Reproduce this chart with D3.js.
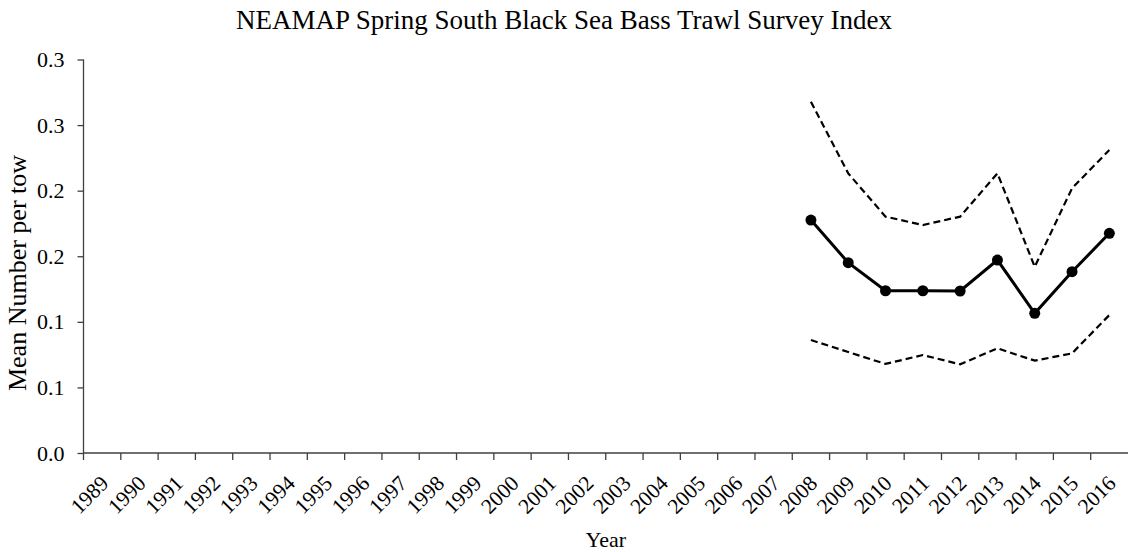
<!DOCTYPE html>
<html lang="en">
<head>
    <meta charset="UTF-8">
    <title>NEAMAP Spring South Black Sea Bass</title>
    <style>
        body { margin: 0; background: #fff; }
        svg { display: block; }
    </style>
</head>
<body>
<script src="https://d3js.org/d3.v7.min.js"></script>
<script>
    const years = d3.range(1989, 2017).map(String);
    const surveyYears = ["2008", "2009", "2010", "2011", "2012", "2013", "2014", "2015", "2016"];
    const meanIndex = [0.1776, 0.1451, 0.1237, 0.1237, 0.1235, 0.1471, 0.1065, 0.1382, 0.1675];
    const upperCI = [0.2678, 0.2132, 0.1802, 0.1738, 0.1802, 0.2132, 0.1420, 0.2018, 0.2310];
    const lowerCI = [0.0861, 0.0770, 0.0679, 0.0747, 0.0676, 0.0798, 0.0704, 0.0760, 0.1052];
    const yTicks = [0, 0.05, 0.1, 0.15, 0.2, 0.25, 0.3];
    const yTickLabels = ["0.0", "0.1", "0.1", "0.2", "0.2", "0.3", "0.3"];

    const width = 1128;
    const height = 552;
    const plotLeft = 83.5, plotRight = 1128, plotTop = 59.5, plotBottom = 453;
    const font = "'Liberation Serif', 'Times New Roman', serif";
    const axisColor = "#404040";

    const svg = d3.select("body")
        .append("svg")
        .attr("width", width)
        .attr("height", height);

    const x = d3.scaleBand()
        .domain(years)
        .range([plotLeft, plotRight]);

    const y = d3.scaleLinear()
        .domain([0, 0.3])
        .range([plotBottom, plotTop]);

    // title
    svg.append("text")
        .attr("x", 564)
        .attr("y", 29)
        .attr("text-anchor", "middle")
        .style("font-family", font)
        .style("font-size", "27px")
        .text("NEAMAP Spring South Black Sea Bass Trawl Survey Index");

    // y axis
    const yAxis = svg.append("g")
        .attr("transform", `translate(${plotLeft},0)`)
        .call(d3.axisLeft(y)
            .tickValues(yTicks)
            .tickSize(6)
            .tickPadding(13)
            .tickFormat((d, i) => yTickLabels[i]));
    yAxis.select(".domain").attr("stroke", axisColor).attr("stroke-width", 1.3)
        .attr("d", `M0,${plotTop}V${plotBottom}`);
    yAxis.selectAll(".tick line").attr("stroke", axisColor).attr("stroke-width", 1.3);
    yAxis.selectAll(".tick text")
        .attr("fill", "#000")
        .style("font-family", font)
        .style("font-size", "22px");

    // x axis, ticks between categories
    const xAxis = svg.append("g")
        .attr("transform", `translate(0,${plotBottom})`);
    xAxis.append("line")
        .attr("x1", plotLeft).attr("x2", plotRight)
        .attr("stroke", axisColor).attr("stroke-width", 1.3);
    xAxis.selectAll(".xtick")
        .data(years)
        .enter()
        .append("line")
        .attr("x1", d => x(d)).attr("x2", d => x(d))
        .attr("y1", 0).attr("y2", 7)
        .attr("stroke", axisColor).attr("stroke-width", 1.3);
    xAxis.selectAll(".xlabel")
        .data(years)
        .enter()
        .append("text")
        .attr("transform", d => `translate(${x(d) + x.bandwidth() / 2 - 3},${21}) rotate(-45)`)
        .attr("text-anchor", "end")
        .attr("dy", "0.7em")
        .style("font-family", font)
        .style("font-size", "21.5px")
        .text(d => d);

    // axis titles
    svg.append("text")
        .attr("x", (plotLeft + plotRight) / 2)
        .attr("y", 547)
        .attr("text-anchor", "middle")
        .style("font-family", font)
        .style("font-size", "22px")
        .text("Year");

    svg.append("text")
        .attr("transform", `translate(26,273) rotate(-90)`)
        .attr("text-anchor", "middle")
        .style("font-family", font)
        .style("font-size", "26px")
        .text("Mean Number per tow");

    const cx = d => x(d) + x.bandwidth() / 2;

    const line = d3.line()
        .x((d, i) => cx(surveyYears[i]))
        .y(d => y(d));

    svg.append("path")
        .datum(upperCI)
        .attr("fill", "none")
        .attr("stroke", "#000")
        .attr("stroke-width", 2.2)
        .attr("stroke-dasharray", "7,4")
        .attr("d", line);

    svg.append("path")
        .datum(lowerCI)
        .attr("fill", "none")
        .attr("stroke", "#000")
        .attr("stroke-width", 2.2)
        .attr("stroke-dasharray", "7,4")
        .attr("d", line);

    svg.append("path")
        .datum(meanIndex)
        .attr("fill", "none")
        .attr("stroke", "#000")
        .attr("stroke-width", 3)
        .attr("d", line);

    svg.selectAll(".dot")
        .data(meanIndex)
        .enter()
        .append("circle")
        .attr("cx", (d, i) => cx(surveyYears[i]))
        .attr("cy", d => y(d))
        .attr("r", 5.5)
        .attr("fill", "#000");
</script>
</body>
</html>
